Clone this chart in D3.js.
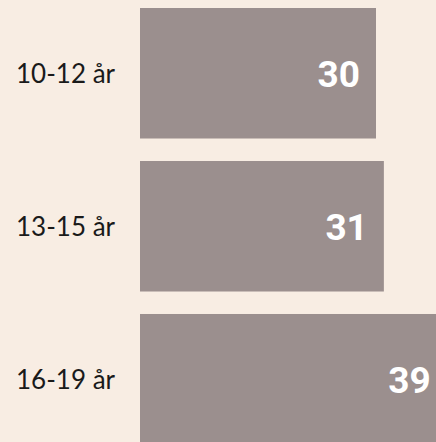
<!DOCTYPE html>
<html>
<head>
<meta charset="utf-8">
<script src="https://cdn.jsdelivr.net/npm/d3@7"></script>
<style>
    html, body { margin: 0; padding: 0; background: #f8ede3; }
    svg { display: block; overflow: hidden; }
</style>
</head>
<body>
<div id="chart"></div>
<script>
// Age groups and their values.
var categories = ['10-12 år', '13-15 år', '16-19 år'];
var values = [30, 31, 39];

var width = 436;
var height = 442;

var svg = d3.select('#chart')
    .append('svg')
    .attr('width', width)
    .attr('height', height);

// Bars start at x = 140; 30 units take ~236 px.
var x = d3.scaleLinear()
    .domain([0, 30])
    .range([140, 376]);

var y = d3.scaleBand()
    .domain(categories)
    .range([8, 444.5])
    .paddingInner(0.147)
    .paddingOuter(0);

var data = categories.map((c, i) => ({ name: c, value: values[i] }));

// Bars.
svg.selectAll('rect.bar')
    .data(data)
    .enter()
    .append('rect')
    .attr('class', 'bar')
    .attr('x', x(0))
    .attr('y', d => y(d.name))
    .attr('width', d => x(d.value) - x(0))
    .attr('height', y.bandwidth())
    .style('fill', '#9b8f8e');

// Category labels on the left.
svg.selectAll('text.cat')
    .data(data)
    .enter()
    .append('text')
    .attr('class', 'cat')
    .attr('x', 16)
    .attr('y', d => y(d.name) + y.bandwidth() / 2)
    .attr('dy', '0.36em')
    .style('font-family', 'Lato, "Open Sans", sans-serif')
    .style('font-size', '26px')
    .style('fill', '#1a1a1a')
    .text(d => d.name);

// Value labels inside the bar end.
svg.selectAll('text.val')
    .data(data)
    .enter()
    .append('text')
    .attr('class', 'val')
    .attr('x', d => x(d.value) - 16)
    .attr('y', d => y(d.name) + y.bandwidth() / 2)
    .attr('dy', '0.36em')
    .attr('text-anchor', 'end')
    .style('font-family', 'Roboto, sans-serif')
    .style('font-weight', 'bold')
    .style('font-size', '37px')
    .style('fill', '#ffffff')
    .text(d => d.value);
</script>
</body>
</html>
